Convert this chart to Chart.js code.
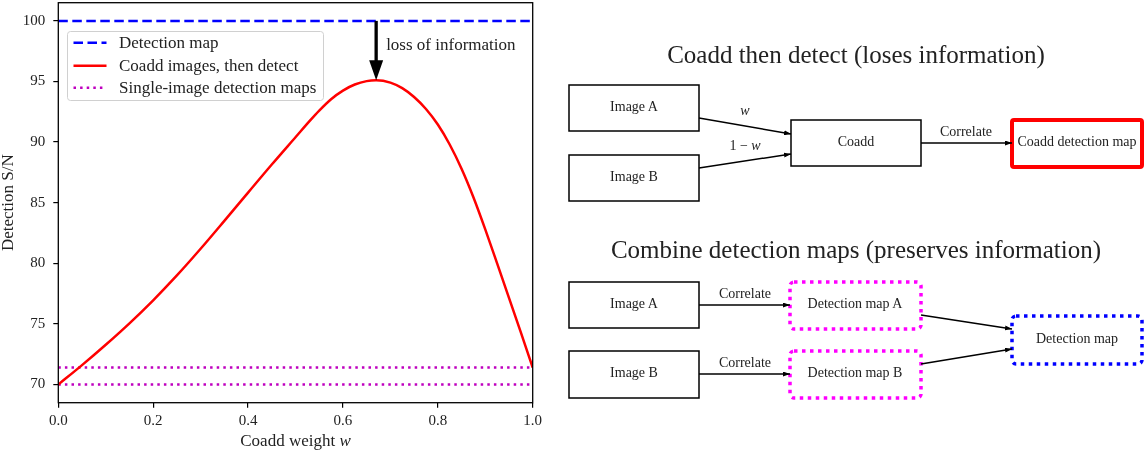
<!DOCTYPE html>
<html>
<head>
<meta charset="utf-8">
<script src="https://cdn.jsdelivr.net/npm/chart.js@4.4.0/dist/chart.umd.min.js"></script>
<style>
  html, body { margin: 0; padding: 0; background: #fff; }
  #wrap { position: relative; width: 1145px; height: 450px; }
  #plot { position: absolute; left: 0; top: 0; }
  #diagram { position: absolute; left: 0; top: 0; }
  #diagram text { font-family: "Liberation Serif", serif; fill: #222; }
</style>
</head>
<body>
<div id="wrap">
  <canvas id="plot" width="545" height="450"></canvas>
  <svg id="diagram" width="1145" height="450" xmlns="http://www.w3.org/2000/svg">
    <defs>
      <marker id="ah" viewBox="0 0 10 10" refX="10" refY="5" markerWidth="7" markerHeight="5"
              preserveAspectRatio="none" orient="auto" markerUnits="userSpaceOnUse">
        <path d="M0,0 L10,5 L0,10 z" fill="#000"/>
      </marker>
    </defs>

    <!-- top: coadd then detect -->
    <text x="856" y="57" font-size="25" text-anchor="middle" dominant-baseline="middle">Coadd then detect (loses information)</text>
    <rect x="569" y="85" width="130" height="46" fill="none" stroke="#000" stroke-width="1.5"/>
    <text x="634" y="108" font-size="14" text-anchor="middle" dominant-baseline="middle">Image A</text>
    <rect x="569" y="155" width="130" height="46" fill="none" stroke="#000" stroke-width="1.5"/>
    <text x="634" y="178" font-size="14" text-anchor="middle" dominant-baseline="middle">Image B</text>
    <rect x="791" y="120" width="130" height="46" fill="none" stroke="#000" stroke-width="1.5"/>
    <text x="856" y="143" font-size="14" text-anchor="middle" dominant-baseline="middle">Coadd</text>
    <rect x="1012" y="120" width="130" height="47" rx="2" fill="none" stroke="#ff0000" stroke-width="4"/>
    <text x="1077" y="143" font-size="14" text-anchor="middle" dominant-baseline="middle">Coadd detection map</text>
    <line x1="699" y1="118" x2="791" y2="134" stroke="#000" stroke-width="1.5" marker-end="url(#ah)"/>
    <line x1="699" y1="168" x2="791" y2="154" stroke="#000" stroke-width="1.5" marker-end="url(#ah)"/>
    <line x1="921" y1="143" x2="1012" y2="143" stroke="#000" stroke-width="1.5" marker-end="url(#ah)"/>
    <text x="745" y="112" font-size="14" text-anchor="middle" dominant-baseline="middle" font-style="italic">w</text>
    <text x="745" y="147" font-size="14" text-anchor="middle" dominant-baseline="middle">1 − <tspan font-style="italic">w</tspan></text>
    <text x="966" y="133" font-size="14" text-anchor="middle" dominant-baseline="middle">Correlate</text>

    <!-- bottom: combine detection maps -->
    <text x="856" y="252" font-size="25" text-anchor="middle" dominant-baseline="middle">Combine detection maps (preserves information)</text>
    <rect x="569" y="282" width="130" height="46" fill="none" stroke="#000" stroke-width="1.5"/>
    <text x="634" y="305" font-size="14" text-anchor="middle" dominant-baseline="middle">Image A</text>
    <rect x="569" y="351" width="130" height="47" fill="none" stroke="#000" stroke-width="1.5"/>
    <text x="634" y="374" font-size="14" text-anchor="middle" dominant-baseline="middle">Image B</text>
    <rect x="790" y="282" width="131" height="47" rx="4" fill="none" stroke="#ff00ff" stroke-width="3.5" stroke-dasharray="3.5 4.5"/>
    <text x="855" y="305" font-size="14" text-anchor="middle" dominant-baseline="middle">Detection map A</text>
    <rect x="790" y="351" width="131" height="47" rx="4" fill="none" stroke="#ff00ff" stroke-width="3.5" stroke-dasharray="3.5 4.5"/>
    <text x="855" y="374" font-size="14" text-anchor="middle" dominant-baseline="middle">Detection map B</text>
    <rect x="1012" y="316" width="130" height="48" rx="4" fill="none" stroke="#0000ff" stroke-width="3.5" stroke-dasharray="3.5 4.5"/>
    <text x="1077" y="340" font-size="14" text-anchor="middle" dominant-baseline="middle">Detection map</text>
    <line x1="699" y1="305" x2="790" y2="305" stroke="#000" stroke-width="1.5" marker-end="url(#ah)"/>
    <line x1="699" y1="374" x2="790" y2="374" stroke="#000" stroke-width="1.5" marker-end="url(#ah)"/>
    <line x1="921" y1="315" x2="1012" y2="329" stroke="#000" stroke-width="1.5" marker-end="url(#ah)"/>
    <line x1="921" y1="364" x2="1012" y2="349" stroke="#000" stroke-width="1.5" marker-end="url(#ah)"/>
    <text x="745" y="295" font-size="14" text-anchor="middle" dominant-baseline="middle">Correlate</text>
    <text x="745" y="364" font-size="14" text-anchor="middle" dominant-baseline="middle">Correlate</text>
  </svg>
</div>
<script>
// values
const weights = [0, 0.05, 0.1, 0.15, 0.2, 0.25, 0.3, 0.35, 0.4, 0.45, 0.5, 0.53, 0.55, 0.575, 0.6, 0.625, 0.65, 0.67,
                 0.7, 0.725, 0.75, 0.775, 0.8, 0.825, 0.85, 0.875, 0.9, 0.925, 0.95, 0.975, 1.0];
const coaddSN = [70.0, 71.6, 73.28, 75.05, 76.95, 79.0, 81.2, 83.5, 85.83, 88.15, 90.4, 91.75, 92.6, 93.54, 94.25, 94.75, 95.03, 95.1,
                 94.91, 94.45, 93.72, 92.73, 91.45, 89.8, 87.8, 85.45, 82.8, 80.0, 77.15, 74.3, 71.4];
const detectionSN = 100;
const singleSN = [70.0, 71.4];
const xTicks = [0, 0.2, 0.4, 0.6, 0.8, 1.0];
const yTicks = [70, 75, 80, 85, 90, 95, 100];
const peakW = 0.67;
const peakSN = 95.1;

const serif = '"Liberation Serif", serif';

const flat = (v) => [{x: 0, y: v}, {x: 1, y: v}];

const extras = {
  id: 'extras',
  afterDatasetsDraw(chart) {
    const {ctx, chartArea: a, scales: {x, y}} = chart;
    ctx.save();

    // arrow: loss of information
    const ax = x.getPixelForValue(peakW);
    const y0 = y.getPixelForValue(detectionSN);
    const y1 = y.getPixelForValue(peakSN);
    ctx.strokeStyle = '#000';
    ctx.fillStyle = '#000';
    ctx.lineWidth = 3.3;
    ctx.beginPath();
    ctx.moveTo(ax, y0);
    ctx.lineTo(ax, y1 - 19);
    ctx.stroke();
    ctx.beginPath();
    ctx.moveTo(ax - 7, y1 - 20);
    ctx.lineTo(ax + 7, y1 - 20);
    ctx.lineTo(ax, y1);
    ctx.closePath();
    ctx.fill();
    ctx.font = '17px ' + serif;
    ctx.textAlign = 'left';
    ctx.textBaseline = 'middle';
    ctx.fillStyle = '#222';
    ctx.fillText('loss of information', ax + 10, y0 + 25);

    // legend box
    const lx = 67.5, ly = 31.5, lw = 256, lh = 69;
    ctx.fillStyle = 'rgba(255,255,255,0.8)';
    ctx.strokeStyle = '#d0d0d0';
    ctx.lineWidth = 1;
    ctx.beginPath();
    ctx.roundRect(lx, ly, lw, lh, 3);
    ctx.fill();
    ctx.stroke();
    const rows = [42.7, 65.7, 87.7];
    chart.data.datasets.filter(d => !d.hideInLegend).forEach((d, i) => {
      ctx.strokeStyle = d.borderColor;
      ctx.lineWidth = d.borderWidth;
      ctx.setLineDash(d.borderDash || []);
      ctx.beginPath();
      ctx.moveTo(73.5, rows[i]);
      ctx.lineTo(106.5, rows[i]);
      ctx.stroke();
      ctx.setLineDash([]);
      ctx.fillStyle = '#222';
      ctx.fillText(d.label, 119, rows[i] + 0.5);
    });

    // frame
    ctx.strokeStyle = '#000';
    ctx.lineWidth = 1.3;
    ctx.strokeRect(a.left, a.top, a.right - a.left, a.bottom - a.top);

    // x axis title with italic w
    const t1 = 'Coadd weight ';
    ctx.font = '17px ' + serif;
    const w1 = ctx.measureText(t1).width;
    ctx.font = 'italic 17px ' + serif;
    const w2 = ctx.measureText('w').width;
    const cx = (a.left + a.right) / 2;
    let tx = cx - (w1 + w2) / 2;
    ctx.fillStyle = '#222';
    ctx.textAlign = 'left';
    ctx.font = '17px ' + serif;
    ctx.fillText(t1, tx, 441.5);
    ctx.font = 'italic 17px ' + serif;
    ctx.fillText('w', tx + w1, 441.5);
    ctx.restore();
  }
};

new Chart(document.getElementById('plot'), {
  type: 'line',
  data: {
    datasets: [
      { label: 'Detection map', data: flat(detectionSN), borderColor: '#0000ff', borderWidth: 2.5, borderDash: [9.5, 4.5], pointRadius: 0 },
      { label: 'Coadd images, then detect', data: weights.map((w, i) => ({x: w, y: coaddSN[i]})), borderColor: '#ff0000', borderWidth: 2.5, cubicInterpolationMode: 'monotone', pointRadius: 0 },
      { label: 'Single-image detection maps', data: flat(singleSN[1]), borderColor: '#bf00bf', borderWidth: 2.5, borderDash: [2.5, 4.1], pointRadius: 0 },
      { label: 'Single-image detection maps', data: flat(singleSN[0]), borderColor: '#bf00bf', borderWidth: 2.5, borderDash: [2.5, 4.1], pointRadius: 0, hideInLegend: true }
    ]
  },
  options: {
    responsive: false,
    animation: false,
    layout: { padding: { top: 2.7, right: 12.3, left: 0, bottom: 0 } },
    plugins: { legend: { display: false }, tooltip: { enabled: false } },
    scales: {
      x: {
        type: 'linear', min: 0, max: 1,
        afterBuildTicks: (s) => { s.ticks = xTicks.map(v => ({value: v})); },
        afterFit: (s) => { s.height = 47.3; s.paddingLeft = 0; s.paddingRight = 0; },
        ticks: { color: '#222', font: { family: serif, size: 15 }, padding: 4, maxRotation: 0,
                 callback: (v) => Number(v).toFixed(1) },
        grid: { drawOnChartArea: false, drawTicks: true, tickLength: 5, color: '#000', lineWidth: 1.2 },
        border: { display: false },
        title: { display: false }
      },
      y: {
        min: 68.5, max: 101.5,
        afterBuildTicks: (s) => { s.ticks = yTicks.map(v => ({value: v})); },
        afterFit: (s) => { s.width = 58.3; s.paddingTop = 0; s.paddingBottom = 0; },
        ticks: { color: '#222', font: { family: serif, size: 15 }, padding: 8 },
        grid: { drawOnChartArea: false, drawTicks: true, tickLength: 5, color: '#000', lineWidth: 1.2 },
        border: { display: false },
        title: { display: true, text: 'Detection S/N', color: '#222', font: { family: serif, size: 17, lineHeight: 1 }, padding: 0 }
      }
    }
  },
  plugins: [extras]
});
</script>
</body>
</html>
